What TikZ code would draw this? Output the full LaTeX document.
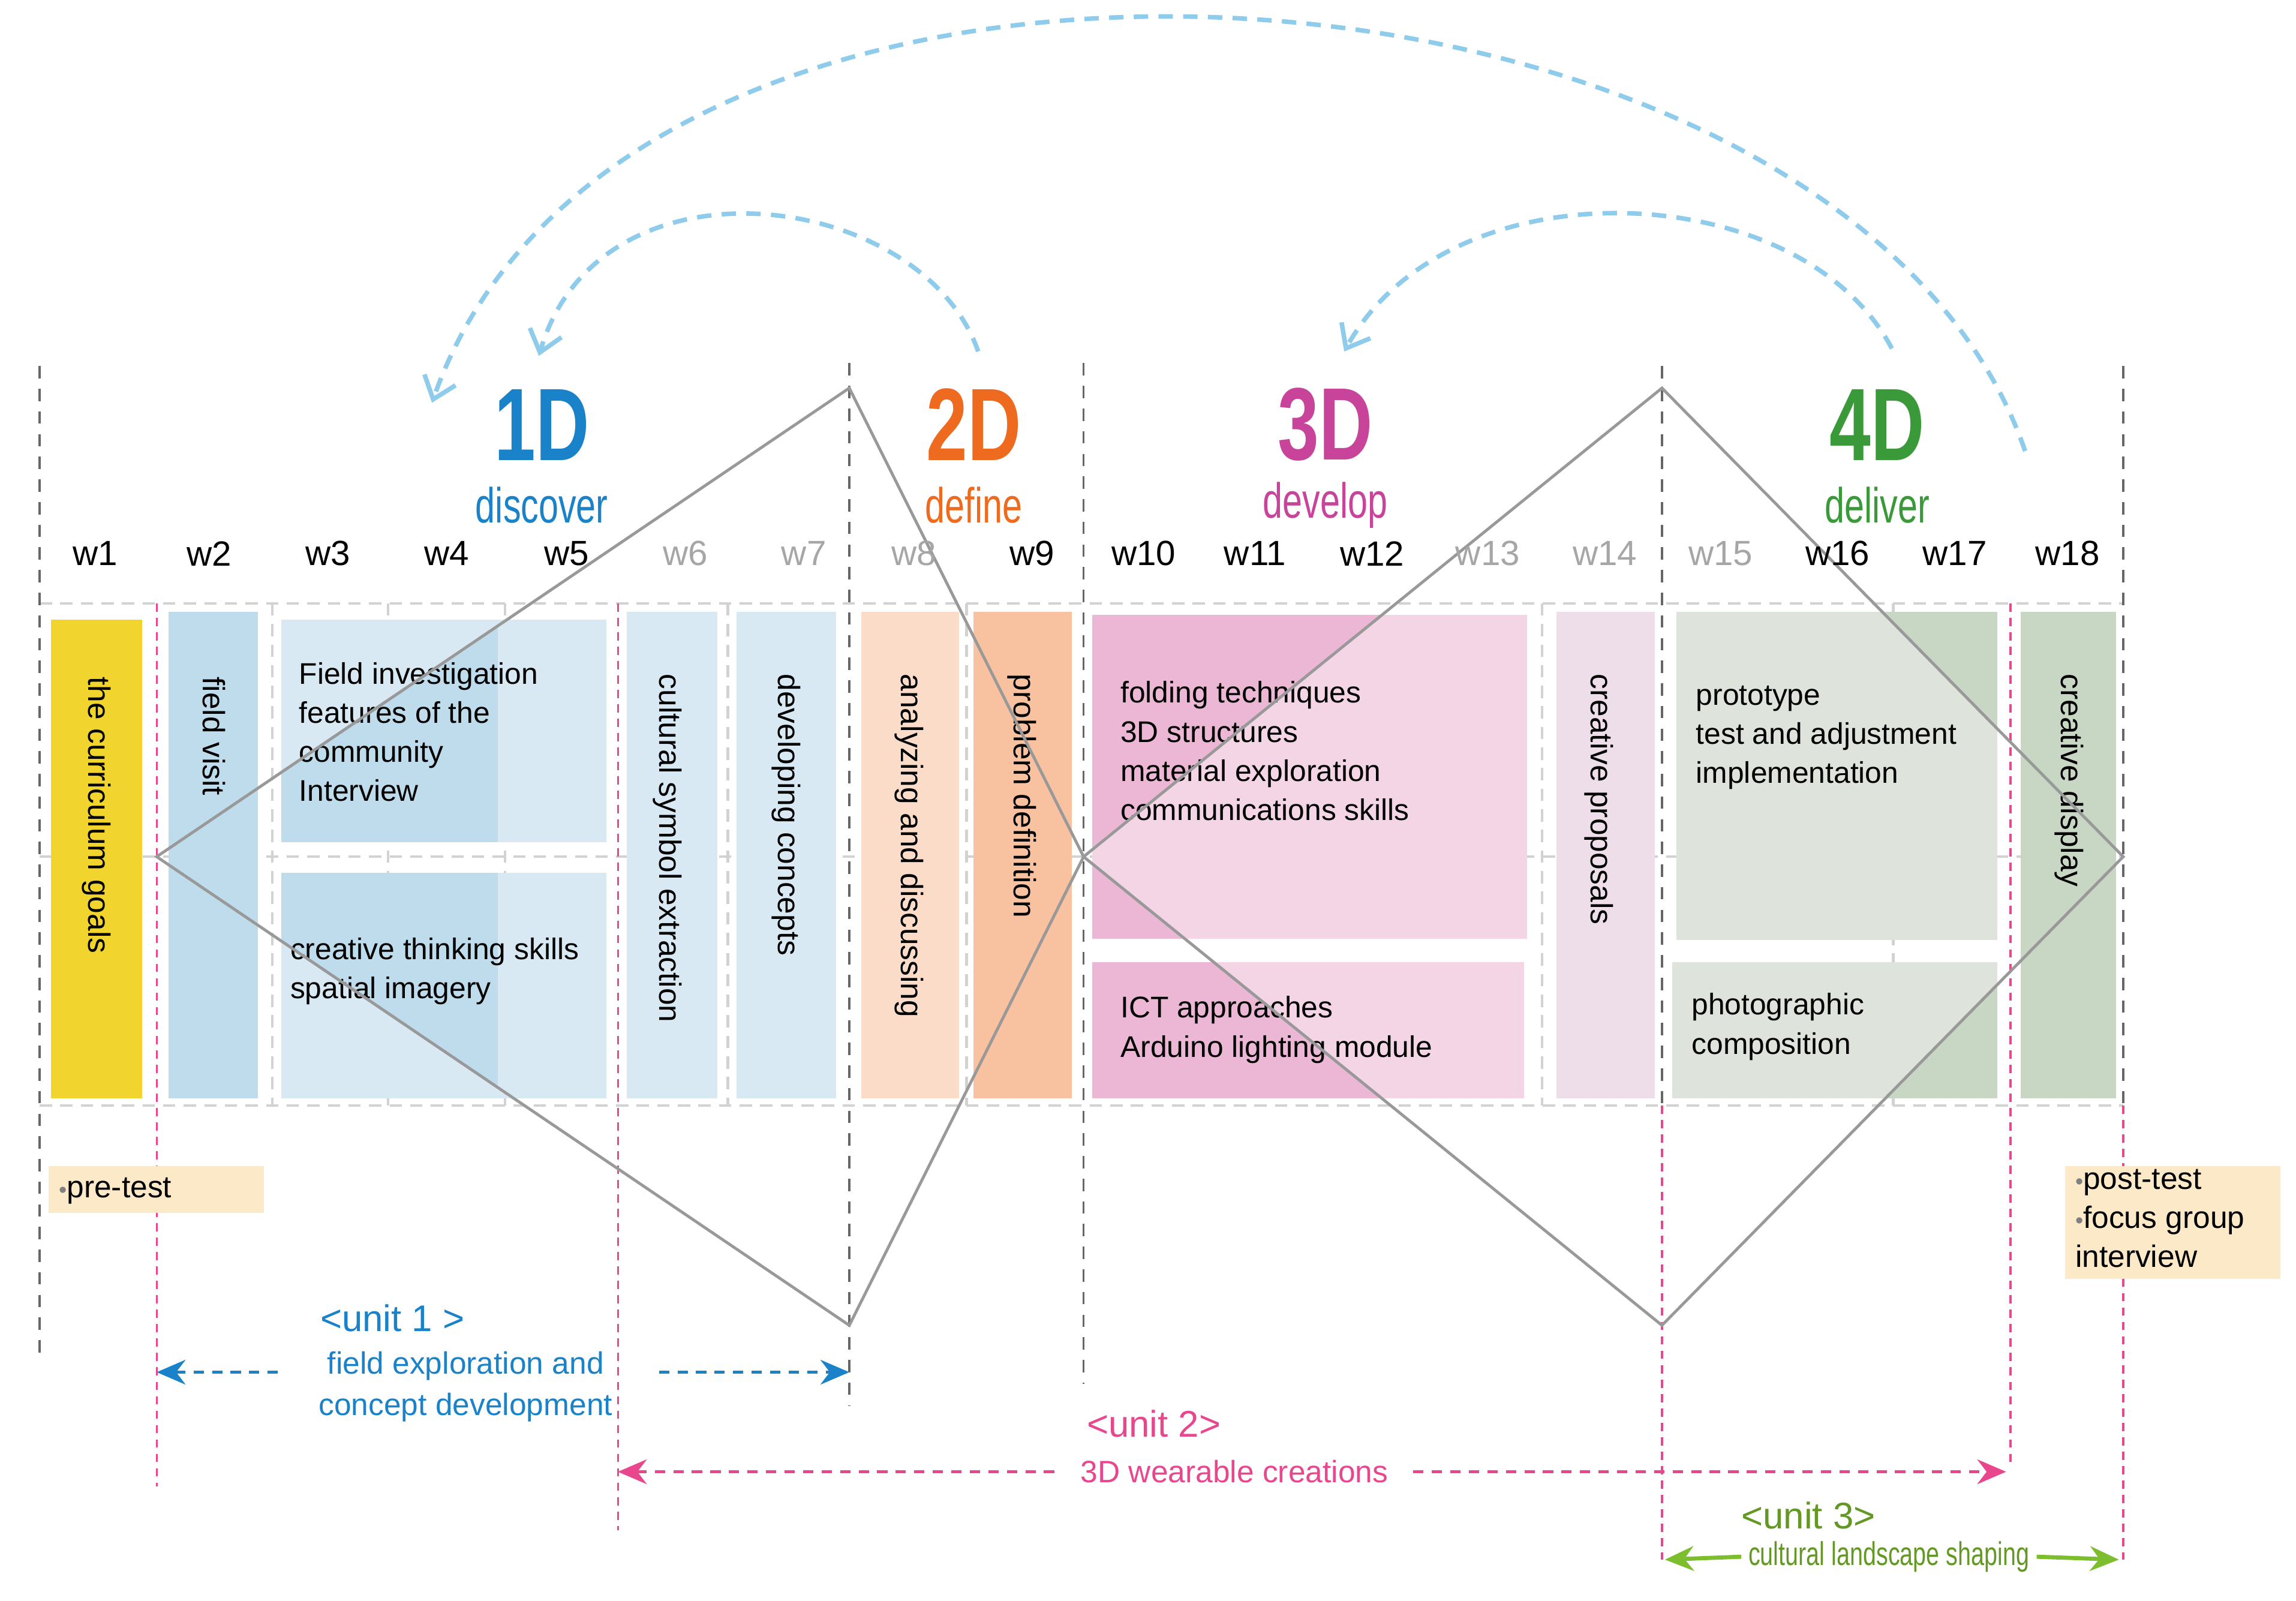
\documentclass[tikz,border=0pt]{standalone}
\usepackage{fontspec}
\setmainfont{Liberation Sans}
\newfontfamily\cond{Liberation Sans}[FakeStretch=0.72]
\usetikzlibrary{arrows.meta}
\definecolor{cblue}{HTML}{1A82C8}
\definecolor{corange}{HTML}{EE6A1E}
\definecolor{cmag}{HTML}{C8449A}
\definecolor{cgreen}{HTML}{3A9A3A}
\definecolor{lblue}{HTML}{8FCBEA}
\definecolor{bdark}{HTML}{BEDCEC}
\definecolor{blight}{HTML}{D8E9F4}
\definecolor{pdark}{HTML}{EBB7D4}
\definecolor{plight}{HTML}{F4D5E6}
\definecolor{gdark}{HTML}{C8D6C4}
\definecolor{glight}{HTML}{DEE4DB}
\definecolor{upink}{HTML}{E8478E}
\definecolor{ugreen}{HTML}{7DBE2E}
\definecolor{tan}{HTML}{FCE9C8}
\definecolor{cyel}{HTML}{F2D42E}
\definecolor{olight}{HTML}{FBDCC8}
\definecolor{odark}{HTML}{F8C19F}
\definecolor{cprop}{HTML}{EEDEE9}
\begin{document}
\begin{tikzpicture}[x=0.025cm,y=-0.025cm,
 wk/.style={font=\fontsize{17}{20}\selectfont},
 wkg/.style={wk,text=gray!70},
 txt/.style={font=\fontsize{14.5}{19}\selectfont,align=left,anchor=north west,inner sep=0},
 rot/.style={font=\fontsize{15}{17}\selectfont,rotate=-90,inner sep=0,anchor=west},
 big/.style={font=\cond\bfseries\fontsize{50}{52}\selectfont},
 sub/.style={font=\cond\fontsize{24}{26}\selectfont},
 vdash/.style={gray!80!black,dashed,line width=1pt,dash pattern=on 6pt off 5pt},
 ldash/.style={gray!35,dashed,line width=1.3pt,dash pattern=on 6pt off 4pt},
 pdash/.style={upink,dashed,line width=1pt,dash pattern=on 4pt off 3pt},
 diam/.style={gray!80,line width=1.4pt},
 curve/.style={lblue,line width=2.2pt,dash pattern=on 7pt off 5pt,-{Straight Barb[length=10pt,width=16pt]}},
]
\newcommand{\bulx}{{\fontsize{11}{11}\selectfont\color{gray}\textbullet}}
\useasboundingbox (0,0) rectangle (1568,1093);
\foreach \y in {412,585,755} \draw[ldash] (27,\y) -- (1450,\y);
\foreach \x in {186,265,345,497,660,1053,1293} \draw[ldash] (\x,412) -- (\x,755);
\fill[cyel] (35,423) rectangle (97,750);
\fill[bdark] (115,418) rectangle (176,750);
\fill[blight] (192,423) rectangle (414,575);
\fill[blight] (192,596) rectangle (414,750);
\begin{scope}
\clip (107,585) -- (580,265) -- (740,585) -- (580,905) -- cycle;
\fill[bdark] (192,423) rectangle (340,575);
\fill[bdark] (192,596) rectangle (340,750);
\end{scope}
\fill[blight] (428,418) rectangle (490,750);
\fill[blight] (503,418) rectangle (571,750);
\fill[olight] (588,418) rectangle (655,750);
\fill[odark] (665,418) rectangle (732,750);
\fill[pdark] (746,420) rectangle (1043,641);
\fill[pdark] (746,657) rectangle (1041,750);
\fill[gdark] (1145,418) rectangle (1364,642);
\fill[gdark] (1142,657) rectangle (1364,750);
\begin{scope}
\clip (740,585) -- (1135,265) -- (1450,585) -- (1135,905) -- cycle;
\fill[plight] (746,420) rectangle (1043,641);
\fill[plight] (746,657) rectangle (1041,750);
\fill[glight] (1145,418) rectangle (1364,642);
\fill[glight] (1142,657) rectangle (1364,750);
\end{scope}
\fill[cprop] (1063,418) rectangle (1130,750);
\fill[gdark] (1380,418) rectangle (1445,750);
\node[rot] (goals) at (66,462) {the curriculum goals};
\node[rot] (visit) at (146,462) {field visit};
\node[txt] (fi) at (204,452) {Field investigation\\features of the\\community\\Interview};
\node[txt] (ct) at (198,640) {creative thinking skills\\spatial imagery};
\node[rot] (cse) at (456,460) {cultural symbol extraction};
\node[rot] (dc) at (537,460) {developing concepts};
\node[rot] (ad) at (621,460) {analyzing and discussing};
\node[rot] (pd) at (698,460) {problem definition};
\node[txt] (fold) at (765,465) {folding techniques\\3D structures\\material exploration\\communications skills};
\node[txt] (ict) at (765,680) {ICT approaches\\Arduino lighting module};
\node[rot] (cp) at (1092,460) {creative proposals};
\node[txt] (proto) at (1158,468) {prototype\\test and adjustment\\implementation};
\node[txt] (photo) at (1155,678) {photographic\\composition};
\node[rot] (cd) at (1413,460) {creative display};
\draw[vdash] (27,250) -- (27,925);
\draw[vdash] (580,248) -- (580,960);
\draw[vdash] (740,248) -- (740,945);
\draw[vdash] (1135,250) -- (1135,755);
\draw[vdash] (1450,250) -- (1450,755);
\draw[pdash] (107,412) -- (107,1015);
\draw[pdash] (422,412) -- (422,1045);
\draw[pdash] (1373,412) -- (1373,1000);
\draw[pdash] (1135,755) -- (1135,1065);
\draw[pdash] (1450,755) -- (1450,1065);
\coordinate (a1) at (107,585); \coordinate (a2) at (580,265);
\coordinate (a3) at (740,585); \coordinate (a4) at (580,905);
\coordinate (b2) at (1135,265); \coordinate (b3) at (1450,585); \coordinate (b4) at (1135,905);
\draw[diam] (a1) -- (a2) -- (a3) -- (a4) -- cycle;
\draw[diam] (a3) -- (b2) -- (b3) -- (b4) -- cycle;
\node[big,text=cblue] (h1) at (370,290) {1D};
\node[sub,text=cblue] (s1) at (370,345) {discover};
\node[big,text=corange] (h2) at (665,290) {2D};
\node[sub,text=corange] (s2) at (665,345) {define};
\node[big,text=cmag] (h3) at (905,290) {3D};
\node[sub,text=cmag] (s3) at (905,345) {develop};
\node[big,text=cgreen] (h4) at (1282,290) {4D};
\node[sub,text=cgreen] (s4) at (1282,345) {deliver};
\node[wk] (w1) at (65,378) {w1};
\node[wk] (w2) at (143,378) {w2};
\node[wk] (w3) at (224,378) {w3};
\node[wk] (w4) at (305,378) {w4};
\node[wk] (w5) at (387,378) {w5};
\node[wkg] (w6) at (468,378) {w6};
\node[wkg] (w7) at (549,378) {w7};
\node[wkg] (w8) at (624,378) {w8};
\node[wk] (w9) at (705,378) {w9};
\node[wk] (w10) at (781,378) {w10};
\node[wk] (w11) at (857,378) {w11};
\node[wk] (w12) at (937,378) {w12};
\node[wkg] (w13) at (1016,378) {w13};
\node[wkg] (w14) at (1096,378) {w14};
\node[wkg] (w15) at (1175,378) {w15};
\node[wk] (w16) at (1255,378) {w16};
\node[wk] (w17) at (1335,378) {w17};
\node[wk] (w18) at (1412,378) {w18};
\coordinate (c1s) at (1383,308); \coordinate (c1e) at (295,275);
\draw[curve] (c1s) .. controls (1260,-50) and (430,-110) .. (c1e);
\coordinate (c2s) at (668,240); \coordinate (c2e) at (368,243);
\draw[curve] (c2s) .. controls (630,130) and (410,100) .. (c2e);
\coordinate (c3s) at (1292,238); \coordinate (c3e) at (918,240);
\draw[curve] (c3s) .. controls (1230,120) and (990,110) .. (c3e);
\node[fill=tan,minimum width=147*0.025cm,minimum height=32*0.025cm,inner sep=0,anchor=north west] (pre) at (33,796) {};
\node[anchor=west,inner sep=0,font=\fontsize{15}{17}\selectfont] (pret) at (40,813) {\bulx pre-test};
\node[fill=tan,minimum width=147*0.025cm,minimum height=77*0.025cm,inner sep=0,anchor=north west] (post) at (1410,796) {};
\node[txt,font=\fontsize{15}{19}\selectfont] (postt) at (1417,798) {\bulx post-test\\\bulx focus group\\interview};
\node[text=cblue,font=\fontsize{18}{20}\selectfont] (u1) at (268,900) {<unit 1 >};
\node[text=cblue,font=\fontsize{15}{20}\selectfont,align=center] (u1t) at (318,947) {field exploration and\\concept development};
\coordinate (u1l) at (107,937); \coordinate (u1r) at (580,937);
\draw[cblue,line width=1.5pt,dash pattern=on 5pt off 4pt,{Stealth[length=14pt,width=12pt]}-] (u1l) -- (190,937);
\draw[cblue,line width=1.5pt,dash pattern=on 5pt off 4pt,-{Stealth[length=14pt,width=12pt]}] (450,937) -- (u1r);
\node[text=upink,font=\fontsize{18}{20}\selectfont] (u2) at (788,972) {<unit 2>};
\node[text=upink,font=\fontsize{15}{17}\selectfont,inner xsep=12pt] (u2t) at (843,1005) {3D wearable creations};
\coordinate (u2l) at (422,1005); \coordinate (u2r) at (1370,1005);
\draw[upink,line width=1.5pt,dash pattern=on 5pt off 4pt,{Stealth[length=14pt,width=12pt]}-] (u2l) -- (u2t.west);
\draw[upink,line width=1.5pt,dash pattern=on 5pt off 4pt,-{Stealth[length=14pt,width=12pt]}] (u2t.east) -- (u2r);
\node[text=ugreen!80!black,font=\fontsize{18}{20}\selectfont] (u3) at (1235,1035) {<unit 3>};
\node[text=ugreen!80!black,font=\cond\fontsize{16}{17}\selectfont] (u3t) at (1290,1063) {cultural landscape shaping};
\coordinate (u3l) at (1137,1065); \coordinate (u3r) at (1447,1065);
\draw[ugreen,line width=2pt,{Stealth[length=14pt,width=12pt]}-] (u3l) -- (u3t.west);
\draw[ugreen,line width=2pt,-{Stealth[length=14pt,width=12pt]}] (u3t.east) -- (u3r);
\end{tikzpicture}
\end{document}
